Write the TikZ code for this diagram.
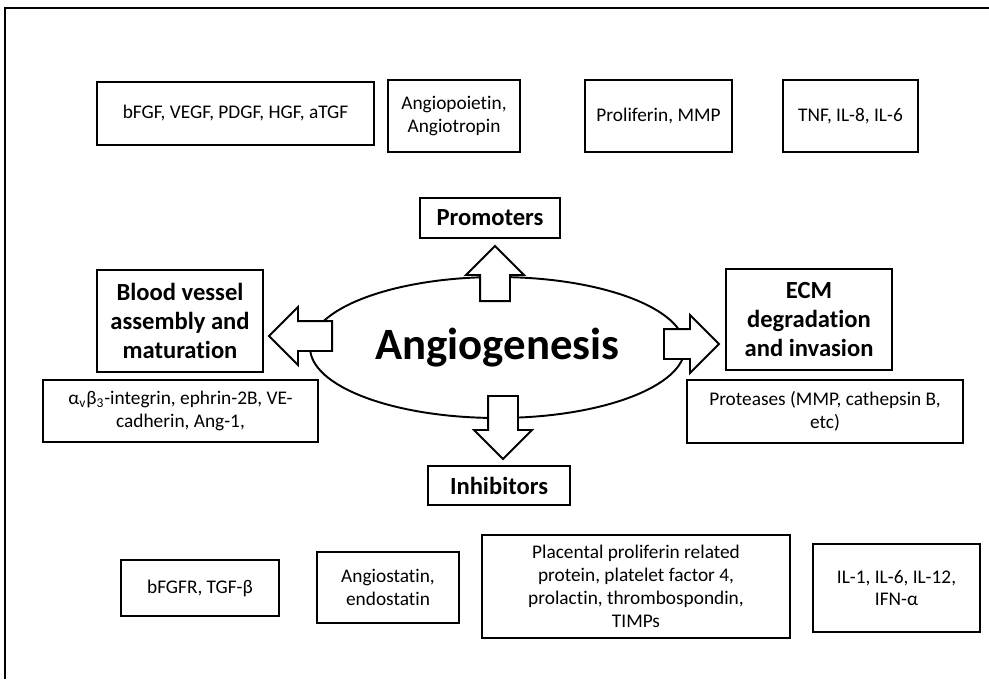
\documentclass[tikz,border=0pt]{standalone}
\usepackage{fontspec}
\setmainfont{Carlito}[Ligatures=NoCommon]
\usepackage{tikz}
\usetikzlibrary{shapes,arrows,positioning,calc}

\begin{document}
\begin{tikzpicture}[x=0.02cm,y=-0.02cm,
    box/.style={draw,line width=1.1pt,align=center,inner sep=0pt,font=\fontsize{11}{13}\selectfont},
    heading/.style={draw,line width=1.3pt,align=center,inner sep=0pt,font=\fontsize{14}{16.7}\selectfont\bfseries},
    blockArrow/.style={single arrow,draw,fill=white,line width=1.1pt,inner xsep=0pt,inner ysep=0.28cm,
        single arrow head extend=0.28cm,anchor=tail}]
    \useasboundingbox (0,0) rectangle (989,679);
    \draw[line width=1pt] (5,679) -- (5,8) -- (989,8);

    % Promoters row
    \node[box,minimum width=5.54cm,minimum height=1.26cm] (growth) at (235.5,113.5) {bFGF, VEGF, PDGF, HGF, aTGF};
    \node[box,minimum width=2.64cm,minimum height=1.44cm] (angpt) at (454,116) {Angiopoietin,\\Angiotropin};
    \node[box,minimum width=2.94cm,minimum height=1.44cm] (prolif) at (658.5,116) {Proliferin, MMP};
    \node[box,minimum width=2.70cm,minimum height=1.44cm] (tnf) at (850.5,116) {TNF, IL-8, IL-6};

    % Centre
    \node[draw,ellipse,line width=1.1pt,minimum width=7.5cm,minimum height=2.82cm,
        font=\fontsize{25.5}{30}\selectfont\bfseries] (ang) at (497.5,347.5) {Angiogenesis};

    \node[heading,minimum width=2.8cm,minimum height=0.8cm] (promo) at (490,218) {Promoters};
    \node[heading,minimum width=3.32cm,minimum height=2.04cm] (vessel) at (180,321) {Blood vessel\\assembly and\\maturation};
    \node[heading,minimum width=3.32cm,minimum height=2.02cm] (ecm) at (809,319.5) {ECM\\degradation\\and invasion};
    \node[heading,minimum width=2.84cm,minimum height=0.78cm] (inhib) at (499,485.5) {Inhibitors};

    \node[box,minimum width=5.5cm,minimum height=1.24cm] (integ) at (180.5,411)
        {α\textsubscript{v}β\textsubscript{3}-integrin, ephrin-2B, VE-\\cadherin, Ang-1,};
    \node[box,minimum width=5.52cm,minimum height=1.26cm] (prot) at (825,411.5)
        {Proteases (MMP, cathepsin B,\\etc)};

    % Block arrows out of the ellipse
    \node[blockArrow,rotate=90,minimum height=1.1cm] (upArr) at (495,302) {};
    \node[blockArrow,rotate=180,minimum height=1.26cm] (leftArr) at (333,336) {};
    \node[blockArrow,rotate=0,minimum height=1.1cm] (rightArr) at (663,344) {};
    \node[blockArrow,rotate=-90,minimum height=1.26cm] (downArr) at (503,395) {};

    % Inhibitors row
    \node[box,minimum width=3.16cm,minimum height=1.12cm] (bfgfr) at (200,588) {bFGFR, TGF-β};
    \node[box,minimum width=2.84cm,minimum height=1.42cm] (astat) at (388,587.5) {Angiostatin,\\endostatin};
    \node[box,minimum width=6.16cm,minimum height=2.06cm] (placent) at (636,586.5)
        {Placental proliferin related\\protein, platelet factor 4,\\prolactin, thrombospondin,\\TIMPs};
    \node[box,minimum width=3.34cm,minimum height=1.76cm] (ilbox) at (896.5,588) {IL-1, IL-6, IL-12,\\IFN-α};
\end{tikzpicture}
\end{document}
